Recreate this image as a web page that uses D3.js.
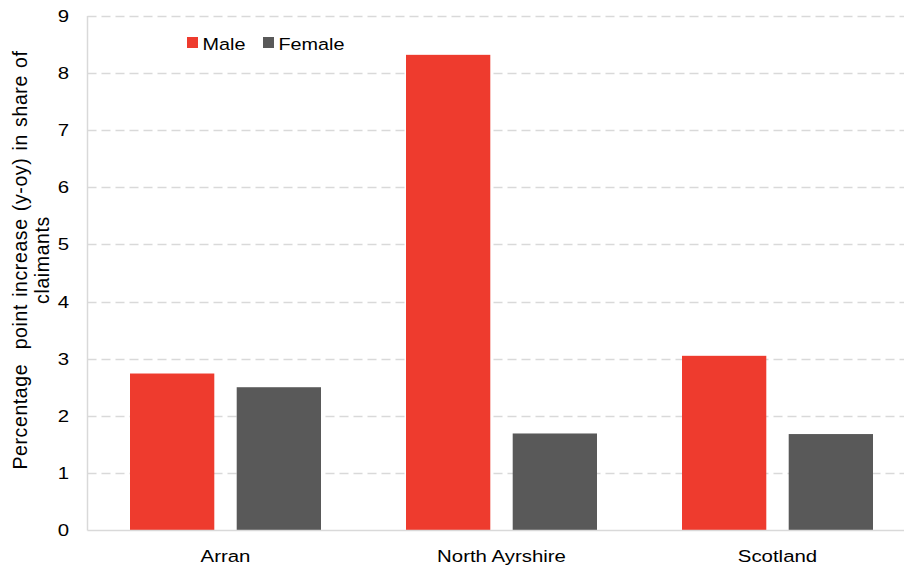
<!DOCTYPE html>
<html><head><meta charset="utf-8">
<script src="https://cdn.jsdelivr.net/npm/d3@7"></script>
<style>body{margin:0;background:#fff;}svg{display:block;font-family:"Liberation Sans",Arial,sans-serif;}</style>
</head><body>
<svg id="c" width="904" height="567"></svg>
<script>
const categories = ["Arran", "North Ayrshire", "Scotland"];
const seriesNames = ["Male", "Female"];
const maleValues = [2.74, 8.32, 3.05];
const femaleValues = [2.50, 1.69, 1.68];
const yTicks = [0,1,2,3,4,5,6,7,8,9];
const colors = ["#EE3B2E", "#595959"];

(function(){
const svg = d3.select("#c");
const pLeft = 87.5, pRight = 915.5, pTop = 16, pBottom = 530;
const SX = 1.2; // horizontal text stretch seen in the reference
const x0 = d3.scaleBand().domain(categories).range([pLeft, pRight]).padding(0);
const x1 = d3.scaleBand().domain(seriesNames).range([42.5, 233.5]).paddingInner(0.21).paddingOuter(0);
const y = d3.scaleLinear().domain([0, 9]).range([pBottom, pTop]);

// gridlines
svg.append("g").selectAll("line").data(yTicks.filter(d => d > 0)).join("line")
  .attr("x1", pLeft).attr("x2", 904).attr("y1", d => Math.round(y(d)) + 0.5).attr("y2", d => Math.round(y(d)) + 0.5)
  .attr("stroke", "#d9d9d9").attr("stroke-width", 1.3).attr("stroke-dasharray", "9,5");

const data = categories.map((c, i) => ({cat: c, vals: [maleValues[i], femaleValues[i]]}));
svg.append("g").selectAll("g").data(data).join("g")
  .attr("transform", d => `translate(${x0(d.cat)},0)`)
  .selectAll("rect").data(d => d.vals.map((v, j) => ({s: seriesNames[j], v, j}))).join("rect")
  .attr("x", d => x1(d.s)).attr("width", x1.bandwidth())
  .attr("y", d => y(d.v)).attr("height", d => y(0) - y(d.v))
  .attr("fill", d => colors[d.j]);

// axes lines
svg.append("line").attr("x1", pLeft).attr("x2", pLeft).attr("y1", pTop).attr("y2", pBottom + 0.5)
  .attr("stroke", "#d9d9d9").attr("stroke-width", 1.5);
svg.append("line").attr("x1", pLeft).attr("x2", 904).attr("y1", pBottom + 0.5).attr("y2", pBottom + 0.5)
  .attr("stroke", "#d9d9d9").attr("stroke-width", 1.5);

// y axis labels
const yAxis = d3.axisLeft(y).tickValues(yTicks).tickSize(0).tickPadding(0).tickFormat(d3.format("d"));
const ya = svg.append("g").attr("transform", `translate(69,0)`).call(yAxis);
ya.select(".domain").remove();
ya.selectAll("text").attr("font-size", 17).attr("fill", "#000").attr("font-family", "Liberation Sans, Arial, sans-serif")
  .attr("transform", `scale(${SX},1)`);

// x axis labels
const xAxis = d3.axisBottom(x0).tickSize(0).tickPadding(0);
const xa = svg.append("g").attr("transform", `translate(0,${550})`).call(xAxis);
xa.select(".domain").remove();
xa.selectAll("text").attr("font-size", 17).attr("fill", "#000").attr("font-family", "Liberation Sans, Arial, sans-serif")
  .attr("transform", `scale(${SX},1)`);

// y axis title
const t = svg.append("text").attr("transform", `translate(27,260) rotate(-90)`)
  .attr("text-anchor", "middle").attr("font-size", 19.5).attr("fill", "#000")
  .style("white-space", "pre").style("letter-spacing", "0.6px").style("word-spacing", "1.2px");
t.append("tspan").attr("x", 0).attr("y", 0).text("Percentage  point increase (y-oy) in share of");
t.append("tspan").attr("x", 0).attr("y", 22).text("claimants");

// legend
const legendX = [187, 263];
const lg = svg.append("g").selectAll("g").data(seriesNames).join("g")
  .attr("transform", (d, i) => `translate(${legendX[i]},37)`);
lg.append("rect").attr("width", 11).attr("height", 11).attr("fill", (d, i) => colors[i]);
lg.append("text").attr("transform", `translate(15.5,12.5) scale(${SX},1)`).attr("font-size", 16.5).attr("fill", "#000").text(d => d);
})();
</script>
</body></html>
